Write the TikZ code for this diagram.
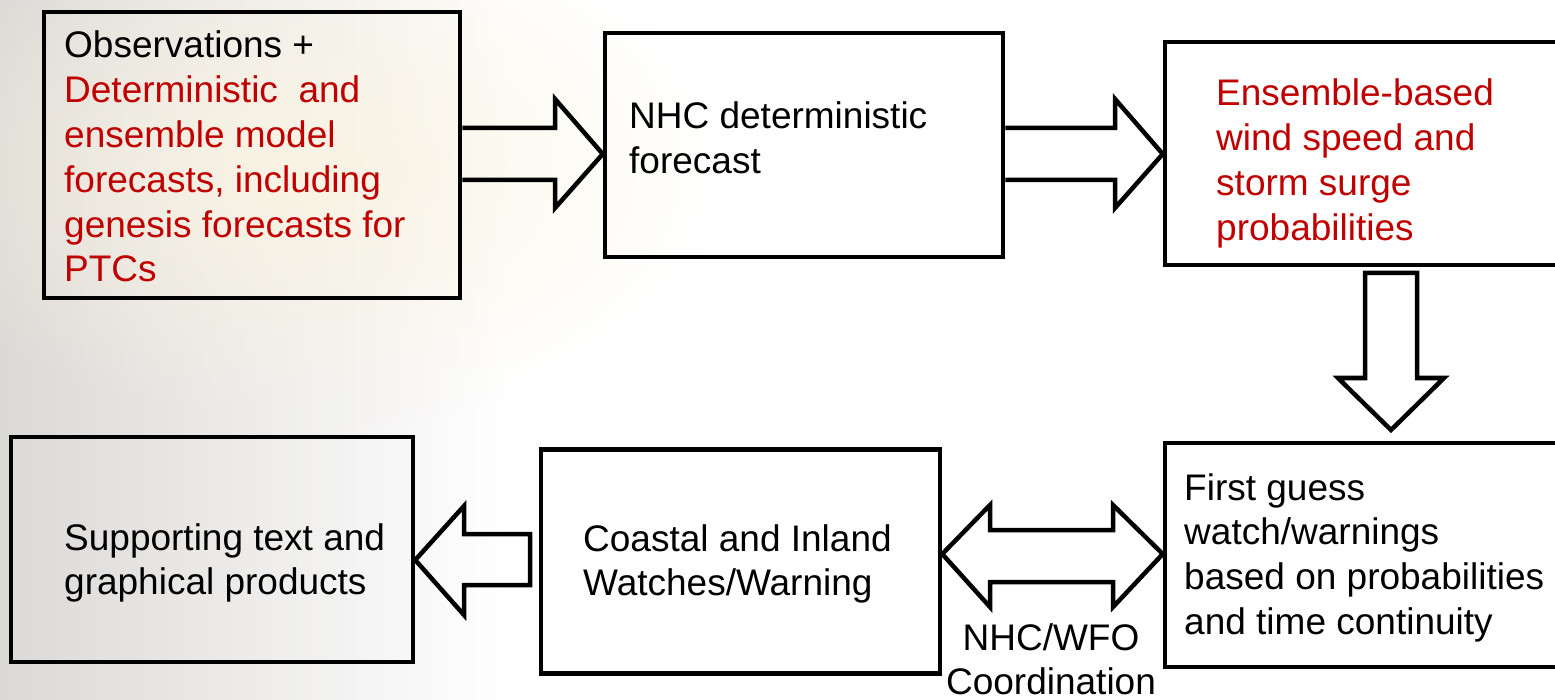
\documentclass[tikz,border=0pt]{standalone}
\usepackage{fontspec}
\setmainfont{Liberation Sans}
\usetikzlibrary{fadings}
\definecolor{txtred}{RGB}{192,0,0}
\definecolor{bgA}{RGB}{205,202,198}
\definecolor{bgB}{RGB}{250,244,226}
\tikzfading[name=softblob, inner color=transparent!0, outer color=transparent!100]
\newcommand\mytab[1]{\begin{tabular}[t]{@{}l@{}}#1\end{tabular}}
\newcommand\mytabc[1]{\begin{tabular}[t]{@{}c@{}}#1\end{tabular}}
\begin{document}
\begin{tikzpicture}[x=1pt,y=-1pt,
  box/.style={draw=black, line width=4.5pt, rectangle, inner sep=0pt},
  barrow/.style={draw=black, line width=4.5pt, line join=miter, miter limit=10},
  txt/.style={anchor=base west, inner sep=0pt, font=\fontsize{37}{44.8}\selectfont},
  txtc/.style={anchor=base, inner sep=0pt, font=\fontsize{37}{44.8}\selectfont}]
\useasboundingbox (0,0) rectangle (1555,700);
\clip (0,0) rectangle (1555,700);
\fill[white] (0,0) rectangle (1555,700);
% faded background
\fill[bgA, path fading=east, opacity=0.7] (0,0) rectangle (500,700);
\fill[bgB, path fading=softblob, opacity=0.9] (300,170) ellipse (420pt and 260pt);
% boxes
\node[box, minimum width=416pt, minimum height=286pt] (b1) at (252,155) {};
\node[box, minimum width=398pt, minimum height=224pt] (b2) at (804,145) {};
\node[box, minimum width=420pt, minimum height=223pt] (b3) at (1375,153.5) {};
\node[box, minimum width=420pt, minimum height=224pt] (b4) at (1375,555) {};
\node[box, minimum width=399pt, minimum height=224pt] (b5) at (740.5,561.5) {};
\node[box, minimum width=402pt, minimum height=225pt] (b6) at (212,549.5) {};
% texts
\node[txt] (t1) at (64,58) {\mytab{Observations +\\
  \color{txtred}Deterministic\ \ and\\
  \color{txtred}ensemble model\\
  \color{txtred}forecasts, including\\
  \color{txtred}genesis forecasts for\\
  \color{txtred}PTCs}};
\node[txt] (t2) at (629,129) {\mytab{NHC deterministic\\ forecast}};
\node[txt] (t3) at (1216,106) {\mytab{\color{txtred}Ensemble-based\\ \color{txtred}wind speed and\\ \color{txtred}storm surge\\ \color{txtred}probabilities}};
\node[txt] (t4) at (1184,500) {\mytab{First guess\\ watch/warnings\\ based on probabilities\\ and time continuity}};
\node[txt] (t5) at (583,551) {\mytab{Coastal and Inland\\ Watches/Warning}};
\node[txt] (t6) at (64,550) {\mytab{Supporting text and\\ graphical products}};
\node[txtc] (lab) at (1051,650) {\mytabc{NHC/WFO\\ Coordination}};
% arrow b1 -> b2
\draw[barrow] (b1.east |- 0,128) -- (555,128) -- (555,99) -- (b2.west |- 0,154)
  -- (555,208) -- (555,180) -- (b1.east |- 0,180);
% arrow b2 -> b3
\draw[barrow] (b2.east |- 0,128) -- (1115,128) -- (1115,99) -- (b3.west |- 0,154)
  -- (1115,208) -- (1115,180) -- (b2.east |- 0,180);
% arrow b3 -> b4 (down)
\coordinate (dtop) at (1391,273);
\coordinate (dtip) at (1391,430);
\draw[barrow] ([xshift=-26pt]dtop) -- ([xshift=26pt]dtop) -- ([xshift=26pt]dtop |- 0,378)
  -- ([xshift=53pt]dtop |- 0,378) -- (dtip) -- ([xshift=-53pt]dtop |- 0,378)
  -- ([xshift=-26pt]dtop |- 0,378) -- cycle;
% arrow b5 -> b6 (left)
\draw[barrow] (530,534) -- (464,534) -- (464,506) -- (b6.east |- 0,560)
  -- (464,615) -- (464,585) -- (530,585) -- cycle;
% double arrow b5 <-> b4
\draw[barrow] (b5.east |- 0,554) -- (990,505) -- (990,530) -- (1113,530) -- (1113,505)
  -- (b4.west |- 0,554) -- (1113,607) -- (1113,582) -- (990,582) -- (990,607) -- cycle;
\end{tikzpicture}
\end{document}
